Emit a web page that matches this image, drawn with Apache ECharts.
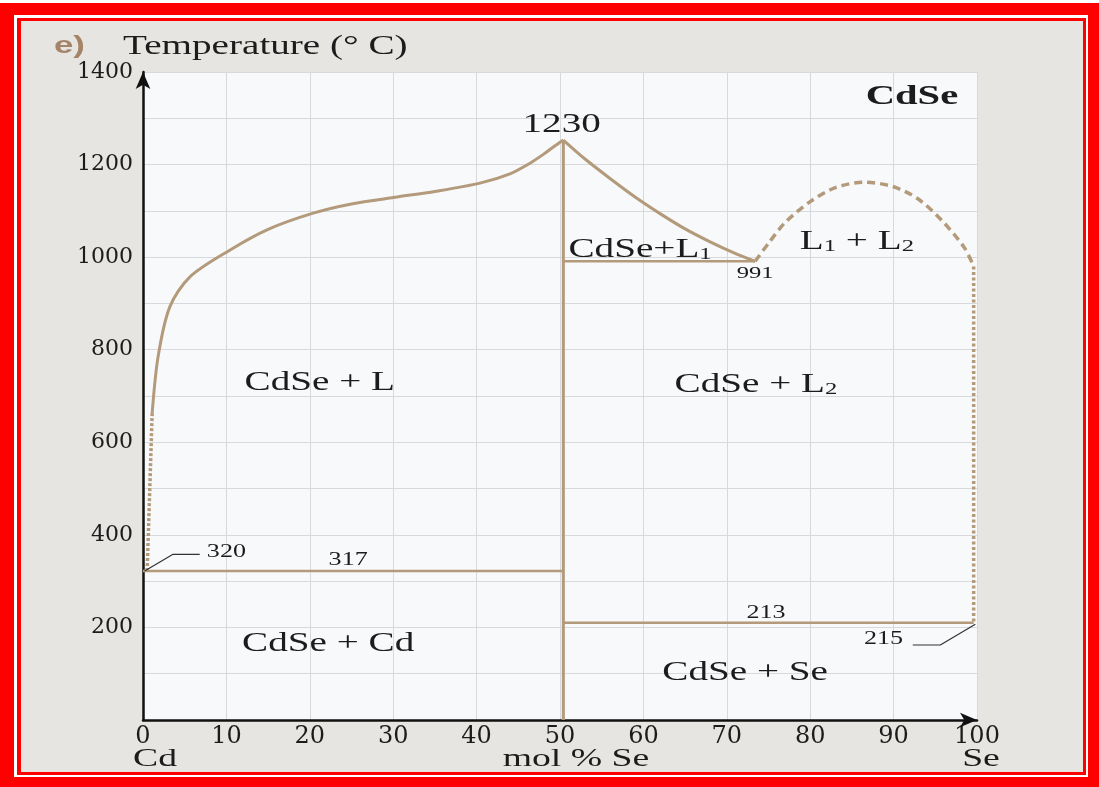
<!DOCTYPE html>
<html>
<head>
<meta charset="utf-8">
<title>CdSe</title>
<script src="https://cdn.jsdelivr.net/npm/echarts@6/dist/echarts.min.js"></script>
<style>
html, body { margin: 0; padding: 0; }
#main { width: 1099px; height: 787px; }
</style>
</head>
<body>
<div id="main"></div>
<script>
// tick labels
var xTicks = [0, 10, 20, 30, 40, 50, 60, 70, 80, 90, 100];
var yTicks = [200, 400, 600, 800, 1000, 1200, 1400];

// phase boundaries [mol % Se, temperature]
var leftLiquidus = [[1.1, 663], [1.8, 784], [3.2, 892], [5.6, 957], [10.4, 1015], [15, 1060], [20.4, 1095],
    [25, 1115], [30.5, 1130], [35, 1142], [40.4, 1160], [44, 1180], [46.4, 1203], [48, 1222], [49.2, 1238], [50.4, 1253]];
var leftDotted = [[1.1, 663], [0.5, 322]];
var eutecticCd = [[0, 322], [50.4, 322]];
var cdseLine = [[50.4, 0], [50.4, 1253]];
var rightLiquidus = [[50.4, 1253], [53, 1212], [56, 1170], [59, 1130], [62, 1094], [65, 1061], [68, 1033],
    [71, 1008], [73.4, 991]];
var monotectic = [[50.4, 991], [73.4, 991]];
var dome = [[73.4, 991], [75, 1030], [77, 1075], [80, 1120], [83, 1150], [86.5, 1162], [90, 1152],
    [93, 1125], [96, 1075], [98.5, 1020], [99.6, 980]];
var seDotted = [[99.6, 980], [99.6, 210]];
var eutecticSe = [[50.4, 210], [99.6, 210]];
var lead320 = [[0.2, 322], [3.6, 358], [6.8, 358]];
var lead215 = [[92.3, 162], [95.6, 162], [99.8, 207]];

// texts inside the plot [x, T, text]
var regionLabels = [
    [21.2, 728, 'CdSe + L'],
    [22.2, 164, 'CdSe + Cd'],
    [72.2, 101, 'CdSe + Se']
];
var subLabels = [
    [59.6, 1019, '{a|CdSe+L}{s|1}'],
    [85.6, 1037, '{a|L}{s|1}{a| + L}{s|2}'],
    [73.5, 728, '{a|CdSe + L}{s|2}']
];
var numLabels = [
    [50.2, 1285, '1230', 27],
    [73.4, 965, '991', 17],
    [10, 363, '320', 18],
    [24.6, 346, '317', 18],
    [74.7, 231, '213', 18],
    [88.8, 174, '215', 18]
];

var lineColor = '#b39a7b';
var textColor = '#1c1c1c';
var serif = '"Liberation Serif", "Times New Roman", serif';
var stretch = 1.45;   // 扫描图横向拉伸

var chart = echarts.init(document.getElementById('main'));

function seg(data, width, type, smooth) {
    return {
        type: 'line', data: data, symbol: 'none', silent: true, animation: false,
        smooth: smooth || false,
        lineStyle: { color: lineColor, width: width, type: type || 'solid', cap: 'butt' }
    };
}
function lead(data) {
    var s = seg(data, 1.2);
    s.lineStyle.color = '#333';
    return s;
}

var option = {
    backgroundColor: '#ff0000',
    animation: false,
    grid: { left: 143, right: 122, top: 72, bottom: 67, show: true, backgroundColor: '#f8f9fb', borderWidth: 0 },
    xAxis: {
        type: 'value', min: 0, max: 100, interval: 10,
        axisLine: { show: true, onZero: false, symbol: ['none', 'arrow'], symbolSize: [11, 17],
            lineStyle: { color: '#111', width: 2.5 } },
        axisTick: { show: false },
        axisLabel: { color: textColor, fontFamily: 'DejaVu Serif', fontSize: 24, margin: 5,
            formatter: function (v) { return xTicks.indexOf(v) >= 0 ? String(v) : ''; } },
        splitLine: { show: true, lineStyle: { color: '#d8d9dc', width: 1 } }
    },
    yAxis: {
        type: 'value', min: 0, max: 1400, interval: 100,
        axisLine: { show: true, onZero: false, symbol: ['none', 'arrow'], symbolSize: [11, 17],
            lineStyle: { color: '#111', width: 2.5 } },
        axisTick: { show: false },
        axisLabel: { color: textColor, fontFamily: 'DejaVu Serif', fontSize: 22, margin: 10,
            formatter: function (v) { return yTicks.indexOf(v) >= 0 ? String(v) : ''; } },
        splitLine: { show: true, lineStyle: { color: '#d8d9dc', width: 1 } }
    },
    series: [
        seg(leftLiquidus, 3, 'solid', 0.3),
        seg(leftDotted, 3.5, [3, 2]),
        seg(eutecticCd, 2.5),
        seg(cdseLine, 3),
        seg(rightLiquidus, 3, 'solid', 0.3),
        seg(monotectic, 2.5),
        seg(dome, 3.5, [8, 5], 0.3),
        seg(seDotted, 3.5, [3, 2.5]),
        seg(eutecticSe, 2.5),
        lead(lead320),
        lead(lead215)
    ]
};
chart.setOption(option);

function px(x, y) { return chart.convertToPixel({ gridIndex: 0 }, [x, y]); }
function text(x, y, str, size, extra) {
    var st = { text: str, fill: textColor, font: (extra && extra.bold ? 'bold ' : '') + size + 'px ' + serif,
        align: (extra && extra.align) || 'center', verticalAlign: 'middle' };
    if (extra && extra.rich) st.rich = extra.rich;
    if (extra && extra.fill) st.fill = extra.fill;
    if (extra && extra.font) st.font = extra.font;
    return { type: 'text', x: x, y: y, scaleX: stretch, z: 50, silent: true, style: st };
}

var g = [
    { type: 'rect', shape: { x: 0, y: 0, width: 1099, height: 3 }, style: { fill: '#fff' }, z: -30 },
    { type: 'rect', shape: { x: 14, y: 15, width: 1074, height: 762 }, style: { fill: '#fff' }, z: -29 },
    { type: 'rect', shape: { x: 17, y: 18, width: 1069, height: 757 }, style: { fill: '#ff0000' }, z: -28 },
    { type: 'rect', shape: { x: 21, y: 21, width: 1062, height: 751 }, style: { fill: '#e6e5e2' }, z: -27 },
    text(123, 47, 'Temperature (° C)', 27, { align: 'left' }),
    text(54, 46, 'e)', 24, { align: 'left', fill: '#a58468', font: 'bold 24px "Liberation Sans", sans-serif' }),
    text(155, 759, 'Cd', 26),
    text(576, 759, 'mol % Se', 26),
    text(981, 759, 'Se', 26)
];
var p;
p = px(92.2, 1346);
g.push(text(p[0], p[1], 'CdSe', 28, { bold: true }));
regionLabels.forEach(function (l) {
    var q = px(l[0], l[1]);
    g.push(text(q[0], q[1], l[2], 27));
});
var rich = {
    a: { fontSize: 27, fontFamily: 'Liberation Serif', fill: textColor, verticalAlign: 'bottom', lineHeight: 30 },
    s: { fontSize: 17, fontFamily: 'Liberation Serif', fill: textColor, verticalAlign: 'bottom', lineHeight: 24 }
};
subLabels.forEach(function (l) {
    var q = px(l[0], l[1]);
    g.push(text(q[0], q[1], l[2], 27, { rich: rich }));
});
numLabels.forEach(function (l) {
    var q = px(l[0], l[1]);
    g.push(text(q[0], q[1], l[2], l[3]));
});
chart.setOption({ graphic: { elements: g } });

window.addEventListener('resize', function () { chart.resize(); });
</script>
</body>
</html>
